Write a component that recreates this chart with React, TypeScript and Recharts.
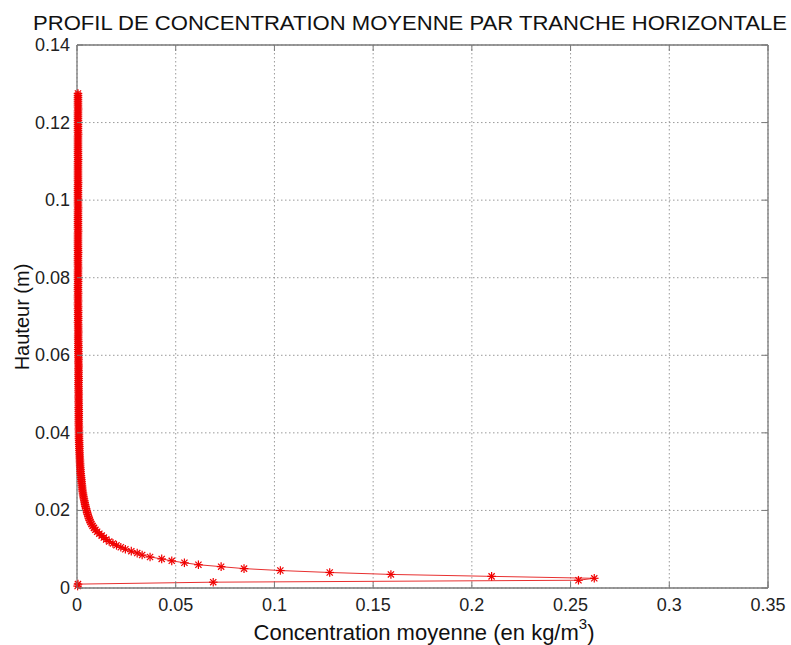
import React from 'react';
import { ScatterChart, Scatter, XAxis, YAxis, CartesianGrid, ReferenceLine } from 'recharts';

// hauteur de chaque tranche (m)
const hauteur = [
  0.0005, 0.001, 0.0015, 0.002, 0.0025, 0.003, 0.0035, 0.004, 0.0045, 0.005,
  0.0055, 0.006, 0.0065, 0.007, 0.0075, 0.008, 0.0085, 0.009, 0.0095, 0.01,
  0.0105, 0.011, 0.0115, 0.012, 0.0125, 0.013, 0.0135, 0.014, 0.0145, 0.015,
  0.0155, 0.016, 0.0165, 0.017, 0.0175, 0.018, 0.0185, 0.019, 0.0195, 0.02,
  0.0205, 0.021, 0.0215, 0.022, 0.0225, 0.023, 0.0235, 0.024, 0.0245, 0.025,
  0.0255, 0.026, 0.0265, 0.027, 0.0275, 0.028, 0.0285, 0.029, 0.0295, 0.03,
  0.0305, 0.031, 0.0315, 0.032, 0.0325, 0.033, 0.0335, 0.034, 0.0345, 0.035,
  0.0355, 0.036, 0.0365, 0.037, 0.0375, 0.038, 0.0385, 0.039, 0.0395, 0.04,
  0.0405, 0.041, 0.0415, 0.042, 0.0425, 0.043, 0.0435, 0.044, 0.0445, 0.045,
  0.0455, 0.046, 0.0465, 0.047, 0.0475, 0.048, 0.0485, 0.049, 0.0495, 0.05,
  0.0505, 0.051, 0.0515, 0.052, 0.0525, 0.053, 0.0535, 0.054, 0.0545, 0.055,
  0.0555, 0.056, 0.0565, 0.057, 0.0575, 0.058, 0.0585, 0.059, 0.0595, 0.06,
  0.0605, 0.061, 0.0615, 0.062, 0.0625, 0.063, 0.0635, 0.064, 0.0645, 0.065,
  0.0655, 0.066, 0.0665, 0.067, 0.0675, 0.068, 0.0685, 0.069, 0.0695, 0.07,
  0.0705, 0.071, 0.0715, 0.072, 0.0725, 0.073, 0.0735, 0.074, 0.0745, 0.075,
  0.0755, 0.076, 0.0765, 0.077, 0.0775, 0.078, 0.0785, 0.079, 0.0795, 0.08,
  0.0805, 0.081, 0.0815, 0.082, 0.0825, 0.083, 0.0835, 0.084, 0.0845, 0.085,
  0.0855, 0.086, 0.0865, 0.087, 0.0875, 0.088, 0.0885, 0.089, 0.0895, 0.09,
  0.0905, 0.091, 0.0915, 0.092, 0.0925, 0.093, 0.0935, 0.094, 0.0945, 0.095,
  0.0955, 0.096, 0.0965, 0.097, 0.0975, 0.098, 0.0985, 0.099, 0.0995, 0.1,
  0.1005, 0.101, 0.1015, 0.102, 0.1025, 0.103, 0.1035, 0.104, 0.1045, 0.105,
  0.1055, 0.106, 0.1065, 0.107, 0.1075, 0.108, 0.1085, 0.109, 0.1095, 0.11,
  0.1105, 0.111, 0.1115, 0.112, 0.1125, 0.113, 0.1135, 0.114, 0.1145, 0.115,
  0.1155, 0.116, 0.1165, 0.117, 0.1175, 0.118, 0.1185, 0.119, 0.1195, 0.12,
  0.1205, 0.121, 0.1215, 0.122, 0.1225, 0.123, 0.1235, 0.124, 0.1245, 0.125,
  0.1255, 0.126, 0.1265, 0.127, 0.1275,
];

// concentration moyenne de chaque tranche (kg/m3)
const concentration = [
  0.0003, 0.0005, 0.069, 0.254, 0.262, 0.21, 0.159, 0.128, 0.103, 0.0846,
  0.073, 0.0615, 0.0544, 0.048, 0.0429, 0.037, 0.033, 0.0305, 0.0275, 0.0245,
  0.0222, 0.02, 0.0182, 0.0163, 0.0148, 0.0136, 0.0125, 0.0113, 0.0102, 0.0093,
  0.0086, 0.0079, 0.0073, 0.0068, 0.0064, 0.006, 0.0057, 0.0054, 0.0051, 0.0048,
  0.0046, 0.0043, 0.0041, 0.0039, 0.0037, 0.0035, 0.0033, 0.0031, 0.003, 0.0028,
  0.0027, 0.0026, 0.0025, 0.0024, 0.0023, 0.0022, 0.0021, 0.002, 0.0019, 0.0018,
  0.0018, 0.0017, 0.0016, 0.0016, 0.0015, 0.0015, 0.0014, 0.0014, 0.0013, 0.0013,
  0.0012, 0.0012, 0.0012, 0.0011, 0.0011, 0.0011, 0.001, 0.001, 0.001, 0.001,
  0.001, 0.0009, 0.001, 0.0009, 0.0009, 0.0009, 0.0009, 0.0009, 0.0009, 0.0009,
  0.0009, 0.0009, 0.0008, 0.0009, 0.0009, 0.0008, 0.0009, 0.0008, 0.0008, 0.0009,
  0.0008, 0.0008, 0.0008, 0.0008, 0.0007, 0.0008, 0.0008, 0.0008, 0.0008, 0.0007,
  0.0008, 0.0008, 0.0007, 0.0008, 0.0008, 0.0007, 0.0007, 0.0008, 0.0007, 0.0007,
  0.0007, 0.0007, 0.0006, 0.0007, 0.0007, 0.0006, 0.0007, 0.0006, 0.0006, 0.0006,
  0.0006, 0.0007, 0.0006, 0.0006, 0.0006, 0.0006, 0.0005, 0.0006, 0.0006, 0.0006,
  0.0005, 0.0006, 0.0006, 0.0005, 0.0006, 0.0005, 0.0005, 0.0006, 0.0005, 0.0005,
  0.0005, 0.0006, 0.0005, 0.0005, 0.0005, 0.0005, 0.0005, 0.0006, 0.0005, 0.0005,
  0.0005, 0.0005, 0.0005, 0.0005, 0.0006, 0.0005, 0.0005, 0.0005, 0.0005, 0.0005,
  0.0005, 0.0005, 0.0006, 0.0005, 0.0005, 0.0005, 0.0005, 0.0005, 0.0005, 0.0005,
  0.0005, 0.0005, 0.0005, 0.0006, 0.0005, 0.0005, 0.0005, 0.0005, 0.0005, 0.0005,
  0.0005, 0.0005, 0.0005, 0.0005, 0.0005, 0.0006, 0.0005, 0.0005, 0.0005, 0.0005,
  0.0005, 0.0005, 0.0005, 0.0005, 0.0005, 0.0005, 0.0005, 0.0005, 0.0006, 0.0005,
  0.0005, 0.0005, 0.0005, 0.0005, 0.0005, 0.0005, 0.0005, 0.0005, 0.0005, 0.0005,
  0.0006, 0.0005, 0.0005, 0.0005, 0.0005, 0.0005, 0.0005, 0.0005, 0.0005, 0.0005,
  0.0005, 0.0005, 0.0005, 0.0006, 0.0005, 0.0005, 0.0005, 0.0005, 0.0005, 0.0005,
  0.0005, 0.0005, 0.0005, 0.0005, 0.0005, 0.0005, 0.0006, 0.0005, 0.0005, 0.0005,
  0.0005, 0.0005, 0.0005, 0.0005, 0.0005,
];

const xTicks = [0, 0.05, 0.1, 0.15, 0.2, 0.25, 0.3, 0.35];
const yTicks = [0, 0.02, 0.04, 0.06, 0.08, 0.1, 0.12, 0.14];

const data = hauteur.map((h, i) => ({ c: concentration[i], h }));

const FONT = '"Liberation Sans", Arial, Helvetica, sans-serif';
const AXIS = '#7a7a7a';
const W = 791;
const H = 645;
const PLOT = { left: 77, right: 768, top: 45, bottom: 588 };
const TICK = 6;

function XTick({ x, y, payload }: any) {
  return (
    <g>
      <line x1={x} x2={x} y1={PLOT.bottom} y2={PLOT.bottom - TICK} stroke={AXIS} />
      <line x1={x} x2={x} y1={PLOT.top} y2={PLOT.top + TICK} stroke={AXIS} />
      <text x={x} y={y} dy={15} textAnchor="middle" fontSize={18} fontFamily={FONT} fill="#222">
        {String(payload.value)}
      </text>
    </g>
  );
}

function YTick({ x, y, payload }: any) {
  return (
    <g>
      <line x1={PLOT.left} x2={PLOT.left + TICK} y1={y} y2={y} stroke={AXIS} />
      <line x1={PLOT.right} x2={PLOT.right - TICK} y1={y} y2={y} stroke={AXIS} />
      <text x={x} y={y} dy={6} textAnchor="end" fontSize={18} fontFamily={FONT} fill="#222">
        {String(payload.value)}
      </text>
    </g>
  );
}

// marqueur '*' façon MATLAB
function Asterisk({ cx, cy }: any) {
  const r = 4.3;
  const d = r * 0.72;
  return (
    <g stroke="#f00000" strokeWidth={1.2}>
      <line x1={cx - r} x2={cx + r} y1={cy} y2={cy} />
      <line x1={cx} x2={cx} y1={cy - r} y2={cy + r} />
      <line x1={cx - d} x2={cx + d} y1={cy - d} y2={cy + d} />
      <line x1={cx - d} x2={cx + d} y1={cy + d} y2={cy - d} />
    </g>
  );
}

export default function App() {
  const yAxisWidth = 70;
  const xAxisHeight = 40;
  return (
    <div style={{ position: 'absolute', left: 0, top: 0, width: W, height: H, background: '#fff' }}>
      <ScatterChart
        width={W}
        height={H}
        margin={{
          top: PLOT.top,
          right: W - PLOT.right,
          left: PLOT.left - yAxisWidth,
          bottom: H - PLOT.bottom - xAxisHeight,
        }}
      >
        <CartesianGrid stroke="#9a9a9a" strokeDasharray="1.5 2.5" />
        <XAxis
          type="number"
          dataKey="c"
          domain={[0, 0.35]}
          ticks={xTicks}
          height={xAxisHeight}
          tickLine={false}
          tickSize={0}
          tickMargin={8}
          axisLine={{ stroke: AXIS, strokeWidth: 1.3 }}
          tick={<XTick />}
        />
        <YAxis
          type="number"
          dataKey="h"
          domain={[0, 0.14]}
          ticks={yTicks}
          width={yAxisWidth}
          tickLine={false}
          tickSize={0}
          tickMargin={7}
          axisLine={{ stroke: AXIS, strokeWidth: 1.3 }}
          tick={<YTick />}
        />
        <ReferenceLine y={0.14} stroke={AXIS} strokeWidth={1.3} />
        <ReferenceLine x={0.35} stroke={AXIS} strokeWidth={1.3} />
        <Scatter
          data={data}
          isAnimationActive={false}
          line={{ stroke: '#e83030', strokeWidth: 1 }}
          lineJointType="linear"
          shape={<Asterisk />}
        />
      </ScatterChart>
      <svg
        width={W}
        height={H}
        style={{ position: 'absolute', left: 0, top: 0, pointerEvents: 'none' }}
      >
        <text
          x={410}
          y={30}
          textAnchor="middle"
          fontSize={21}
          fontFamily={FONT}
          fill="#111"
          textLength={754}
          lengthAdjust="spacingAndGlyphs"
        >
          PROFIL DE CONCENTRATION MOYENNE PAR TRANCHE HORIZONTALE
        </text>
        <text
          transform="translate(29 317) rotate(-90)"
          textAnchor="middle"
          fontSize={20}
          fontFamily={FONT}
          fill="#111"
        >
          Hauteur (m)
        </text>
        <text x={424} y={640} textAnchor="middle" fontSize={22} fontFamily={FONT} fill="#111">
          Concentration moyenne (en kg/m
          <tspan fontSize={15} dy={-11}>3</tspan>
          <tspan dy={11}>)</tspan>
        </text>
      </svg>
    </div>
  );
}
